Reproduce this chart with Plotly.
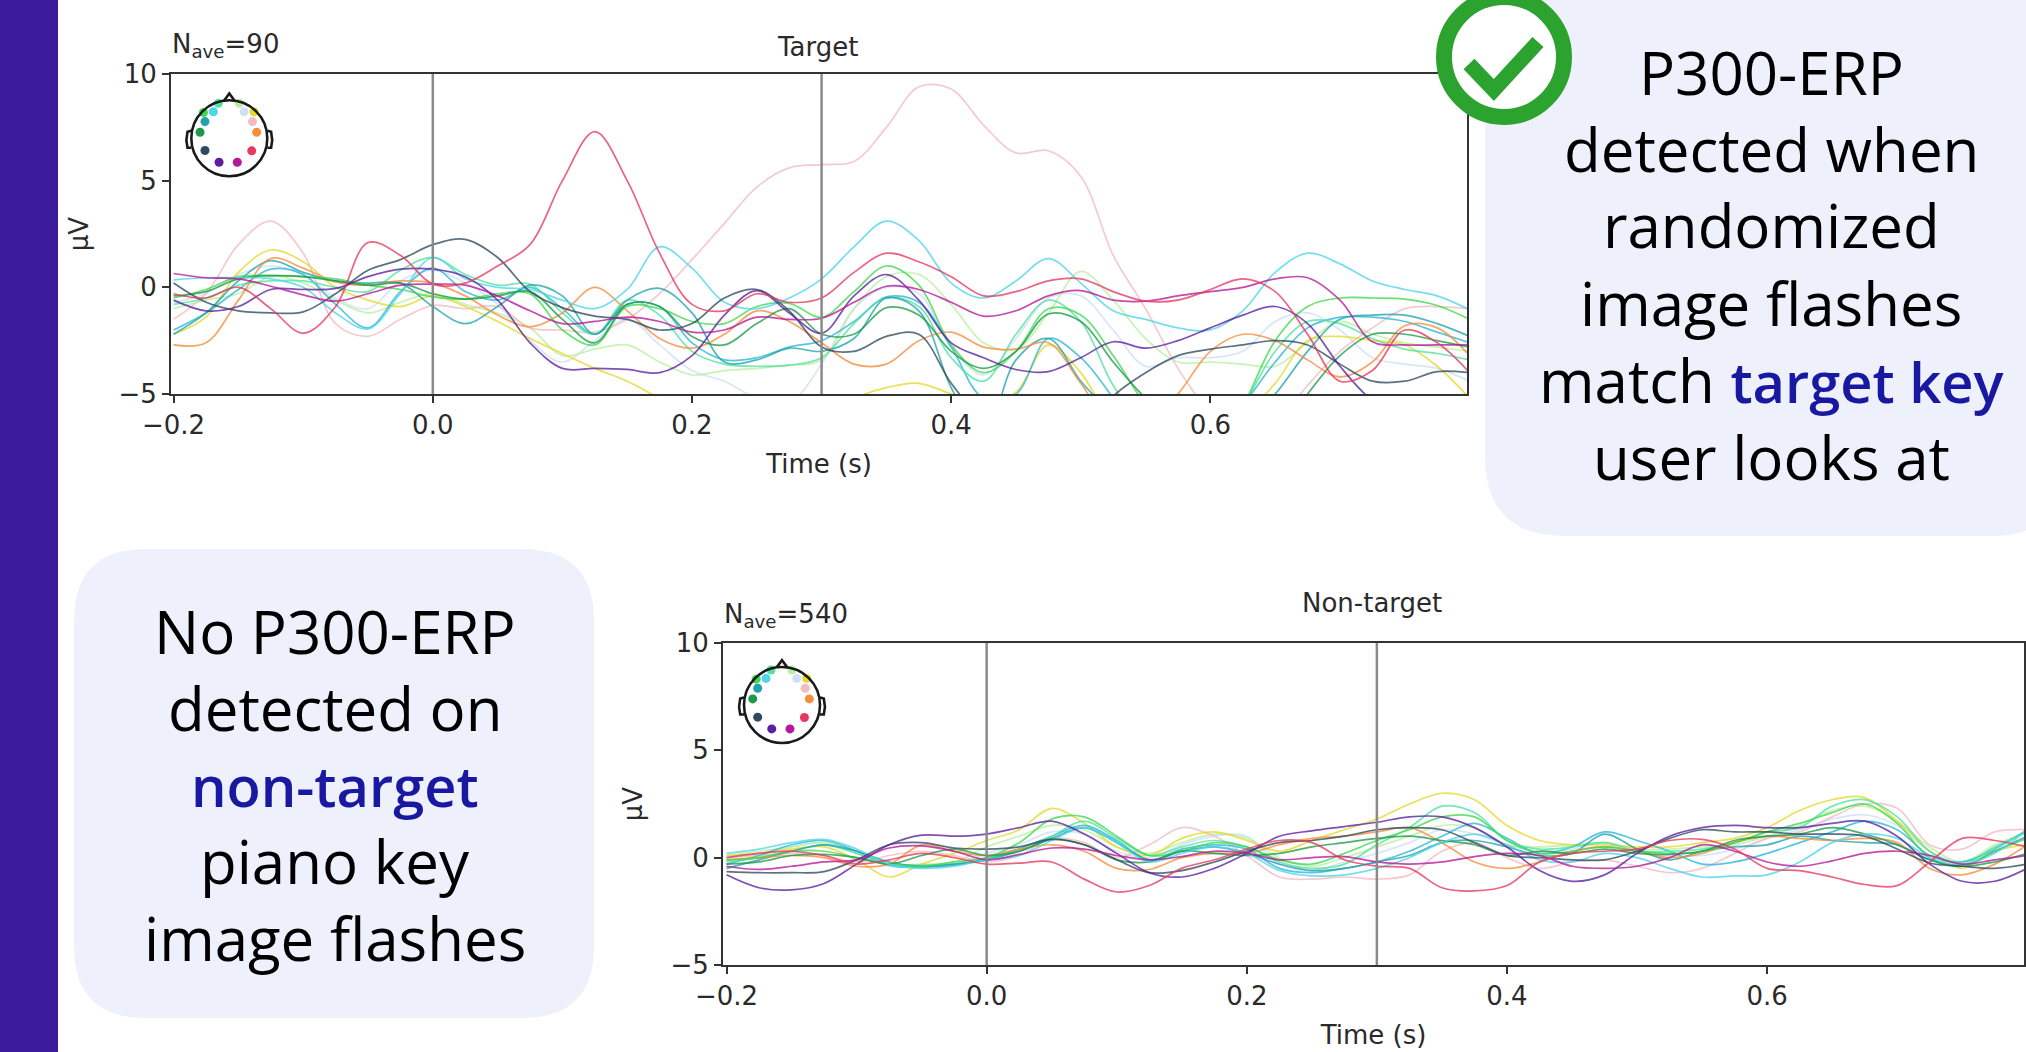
import plotly.graph_objects as go

W, H = 2026, 1052

time_s = [round(-0.2 + 0.025 * i, 3) for i in range(41)]
x_ticks = [-0.2, 0.0, 0.2, 0.4, 0.6]
y_ticks = [-5, 0, 5, 10]
markers_s = [0.0, 0.3]

channels = ["paleblue", "lightgreen", "palepink", "yellow", "bluecyan", "mint", "teal", "orange",
            "lime", "green", "cyan", "navy", "indigo", "magenta", "crimson"]

colors = dict(crimson="#e6395f", palepink="#f2bcc4", cyan="#4fd6ea", magenta="#b5189a", indigo="#5b1fa0",
              navy="#2f4a5f", teal="#1fa3ac", orange="#f58d3c", yellow="#e6d92a", green="#1c9a4a",
              lime="#3fd94f", mint="#4fe3a0", lightgreen="#b8f0a0", paleblue="#cfdff5", bluecyan="#28b8d8")

target = {}
target["crimson"] = [-.3,-.5,0,-1,-2.15,-.9,2.1,1.5,.15,.2,1.0,2.0,5.0,7.3,5.0,1.6,-.8,-1.1,-.3,-.7,-.5,.7,1.6,1.2,.5,-.4,-.2,.3,.4,-.2,-.65,-.6,-.1,.4,-.2,-2.2,-4.4,-3.9,-2.0,-2.6,-4.0]
target["palepink"] = [-1.5,-.3,2.0,3.1,1.6,-1.7,-2.3,-1.5,-.85,-1.0,-.9,-1.9,-2,-2.1,-1.5,-.3,1.3,3.0,4.7,5.6,5.75,5.9,7.5,9.4,9.3,7.6,6.3,6.4,5.2,1.5,-1.0,-3.8,-6,-8,-6.5,-4.6,-3,-1.9,-1,-.9,-1]
target["cyan"] = [.35,.45,.45,.4,.0,-1.2,-1.95,-.3,1.4,.4,.0,-.1,-.6,-1.0,-.1,1.9,.9,-.7,-1.0,-.5,.4,1.9,3.1,2.2,.2,-.5,.3,1.35,.2,-1.1,-1.5,-1.9,-2.0,-1.1,.7,1.6,1.1,.3,-.1,-.4,-1.05]
target["magenta"] = [.65,.45,.4,.05,-.35,-.65,-.3,.1,.15,.1,-.4,-1.1,-1.7,-1.6,-1.4,-1.6,-2.1,-2.0,-1.4,-1.5,-1.45,-.7,.05,-.1,-.7,-1.35,-1.1,-.4,-.15,-.6,-.65,-.4,-.2,0,.4,.45,-.6,-2.55,-2.7,-2.7,-2.7]
target["indigo"] = [-.6,-1.1,-.9,-.1,-.1,-.05,.5,.85,.85,.5,-.6,-2.6,-3.8,-3.8,-3.85,-4,-3.2,-1.3,-.15,-1.2,-2.15,-.4,.6,-.6,-2.6,-3.3,-3.85,-3.95,-3.3,-2.55,-2.85,-2.5,-1.9,-1.3,-.9,-1.7,-3.7,-5.3,-6,-6.5,-7]
target["navy"] = [.2,-.7,-1.1,-1.2,-1.15,-.3,.8,1.3,2.0,2.25,1.4,-.2,-.95,-1.35,-1.5,-2.0,-1.7,-.5,-.1,-1.1,-2.8,-3.0,-2.3,-2.2,-4.5,-6.3,-7.5,-8,-7,-5.1,-4,-3.2,-2.9,-2.7,-2.5,-2.7,-3.6,-4.4,-4.4,-3.95,-4]
target["teal"] = [-2.2,-1.2,.3,1.25,.7,.3,.2,.2,-.9,-1.7,-.9,.1,-.4,-2.2,-.6,-.05,-1.2,-3.5,-3.4,-2.85,-3.0,-2.4,-.5,-1.1,-4.7,-7,-3.4,-2.4,-4.4,-6,-7.5,-8,-7.5,-6.5,-5,-3,-1.5,-1.3,-1.3,-1.7,-2.3]
target["orange"] = [-2.7,-2.6,-.6,1.35,.9,.25,.1,.3,.2,-.4,-1.3,-1.85,-1.2,0,-1.1,-2.4,-2.85,-2.2,-1.1,-1.6,-2.6,-3.6,-3.6,-2.5,-2.1,-2.8,-2.9,-2.6,-4.5,-6.5,-6.5,-5,-3,-2.2,-2.5,-3.4,-4.2,-3.5,-1.8,-1.9,-3.2]
target["yellow"] = [-2.2,-1.4,.7,1.75,1.2,0,-.6,-.9,-.4,-.9,-1.6,-2.4,-3.1,-3.8,-4.4,-5.2,-6,-6.5,-7,-6.5,-6,-5.2,-4.7,-4.5,-5,-5.5,-4.9,-2.7,-4,-6.5,-8,-8,-7,-6,-4.5,-2.5,-2.3,-2.5,-2.7,-3.7,-5.2]
target["green"] = [-.4,-.2,.4,.55,.5,.3,.1,.2,-.3,-.55,-.4,-.2,-1.5,-2.6,-.8,-.9,-2.3,-2.7,-1.7,-1.0,-2.2,-2.2,-.95,-1.3,-3,-3.8,-3,-1.25,-1.6,-3.5,-5.2,-6.5,-7.5,-8,-7,-5,-3.2,-2.2,-2.2,-2.5,-2.8]
target["lime"] = [-.5,-.1,.5,.55,.5,.4,.1,-.1,-.45,-.55,-.3,-.3,-2.0,-2.7,-.9,-1,-1.6,-1.7,-.9,-.75,-1.4,-.2,1.0,.1,-2.7,-4,-3,-1,-1.3,-3.2,-5.5,-7,-8,-5.6,-2.5,-.9,-.5,-.5,-.55,-.85,-1.5]
target["mint"] = [-.8,-.5,.1,.3,.3,.0,-.2,.8,1.4,.6,.1,.15,-1.2,-2.2,-.6,-1.3,-3,-3.6,-3.7,-3.65,-3.3,-1.7,-.5,-.9,-3.3,-4.4,-2.2,-.6,-1.6,-4.6,-6.5,-7.5,-7,-5.5,-3,-1.6,-1.7,-2.4,-2.9,-3.1,-3.4]
target["lightgreen"] = [-1,-.6,-.3,.5,.2,-.6,-1.2,-.7,-.3,-.8,-1.2,-1.9,-3.2,-2.9,-2.7,-3.5,-4.1,-3.9,-3.8,-3.65,-3.4,-1,.5,.6,-.8,-2.6,-2.9,-1.2,.75,-.6,-2.4,-3.5,-3.5,-3.6,-3.7,-2.6,-1.6,-2.2,-2.6,-2.8,-3]
target["paleblue"] = [-.7,-.3,.6,1.0,.6,-.5,-1,.3,.8,.2,-.8,-2.5,-3.5,-2.5,-1.5,-2.7,-3.9,-4.4,-5.2,-5.4,-3.6,-1,.0,-.3,-2.8,-4.1,-2.4,-.5,-.4,-2,-3.7,-3.3,-3.3,-3,-1.6,-1.2,-2,-3.3,-3.6,-3.8,-4.4]
target["bluecyan"] = [-2.0,-1.2,-.1,.85,.6,-.8,-1.9,-.2,.9,-.2,-.6,.0,-1,-2.2,-.8,-.9,-2.6,-3.4,-3.3,-2.8,-2.5,-1.6,-.45,-.7,-2.8,-5.2,-5,-2.4,-3.3,-5.2,-7.5,-8,-7,-5.5,-3.5,-1.9,-1.4,-1.4,-1.6,-2.1,-2.6]

nontarget = {}
nontarget["crimson"] = [0,.2,.3,.1,-.3,-.1,.2,.0,-.3,-.25,-.2,-1.0,-1.6,-1.3,-.5,-.1,.4,.8,.7,-.1,-.4,-.5,-1.4,-1.55,-1.3,-.2,.2,.3,.4,.8,.85,.4,-.5,-.6,-.9,-1.25,-1.3,-.2,.9,.8,.5]
nontarget["palepink"] = [0,.1,.2,.1,-.2,.1,.3,.1,-.2,.1,.9,.7,.0,.6,1.4,1.0,.1,-.9,-1,-.9,-1.0,-.8,.3,.7,.0,-.5,-.2,-.1,-.4,-.7,-.5,.2,.9,1.2,1.9,2.5,2.3,.6,.4,1.2,1.3]
nontarget["yellow"] = [.1,.2,.4,.5,-.1,-.9,-.3,.2,.8,1.3,2.3,1.6,.5,.1,.9,1.2,.8,.3,.8,1.3,1.8,2.5,3,2.7,1.5,.8,.6,.6,.5,.5,.7,.9,1.4,2.2,2.7,2.8,1.7,.3,-.5,.3,.6]
nontarget["lime"] = [-.1,.0,.3,.3,.0,-.3,-.4,-.2,.0,.7,1.8,1.9,1.0,.1,.3,.7,.5,-.1,-.3,.2,.8,1.3,1.9,1.9,.8,.2,.3,.5,.3,.2,.3,.7,1.2,1.6,2.1,2.5,1.6,.0,-.35,.3,.9]
nontarget["mint"] = [-.2,.0,.3,.6,.2,-.3,-.35,-.3,-.1,.4,1.0,1.7,.9,.1,.5,.8,.5,-.2,-.5,-.3,.6,1.4,2.4,2.1,.8,.4,.5,.7,.3,.3,.4,.7,1.2,1.4,2.4,2.7,1.9,.3,-.3,.5,1.2]
nontarget["bluecyan"] = [-.3,.1,.6,.8,.3,-.35,-.45,-.35,-.05,.4,1,1.5,.8,-.1,.4,.6,.4,-.5,-.7,-.5,-.2,.3,1,1.6,.9,.2,.5,1.2,.8,.3,-.3,-.2,.2,.7,1.2,1.7,1.3,.1,-.2,.4,1.3]
nontarget["cyan"] = [.2,.4,.7,.85,.4,-.3,-.5,-.4,-.1,.1,.8,1.4,.7,-.2,.2,.5,.2,-.6,-.85,-.8,-.5,.0,.7,1.1,.6,-.1,-.2,.2,.0,-.5,-.9,-.85,-.8,-.2,.7,1.1,.9,.0,-.35,.2,1.3]
nontarget["teal"] = [-.5,-.1,.3,.6,.3,-.2,-.4,-.3,-.1,.3,.9,1.4,.7,-.1,.3,.5,.2,-.3,-.6,-.5,-.2,.1,.7,.8,.5,.1,.2,1.1,.4,-.1,.3,.5,.6,1.0,.8,.7,.6,-.1,-.4,.3,1.0]
nontarget["green"] = [-.3,-.2,.1,.15,0,-.3,.1,.4,.1,.3,.85,.6,-.1,-.2,.3,.2,.1,.2,.5,.7,.9,1.0,.8,.6,.1,.3,.2,.4,.2,.15,.3,.8,1.0,1.1,1.4,1.1,.6,-.1,-.4,-.2,.2]
nontarget["navy"] = [-.65,-.7,-.7,-.65,-.1,.6,.7,.45,.4,.5,.85,.6,-.1,-.7,-.6,-.2,.3,.7,.8,1,1.3,1.4,1.3,.7,.1,.0,-.1,-.1,.3,.9,1.3,1.2,1.2,1.1,1.1,1,.4,-.25,-.4,-.5,-.3]
nontarget["indigo"] = [-.8,-1.4,-1.5,-1.2,-.3,.6,1.05,1.0,1.1,1.4,1.7,1.1,.2,-.7,-.9,-.5,.2,1,1.25,1.45,1.65,1.9,1.9,1.4,.5,-.6,-1.1,-.8,.2,1,1.4,1.5,1.4,1.4,1.6,1.7,1.0,-.3,-1.1,-1.1,-.5]
nontarget["magenta"] = [-.4,-.55,-.4,-.2,-.1,.45,.55,.3,-.1,.15,.45,.4,.1,-.1,.05,.3,.2,-.1,.0,.05,-.2,-.3,-.2,.05,.2,.1,-.4,-.5,-.4,-.0,.6,.3,-.2,-.4,-.15,.2,.3,.1,-.3,-.1,.1]
nontarget["orange"] = [-.1,.0,.1,.0,-.4,-.3,.6,.3,.1,.4,.6,.3,-.5,-.55,.0,.2,.2,.6,.9,1,1.2,1.4,.7,-.2,-.5,-.2,.3,.5,.3,.0,.2,.7,1,.9,.8,.9,.7,-.5,-.8,-.3,.6]
nontarget["lightgreen"] = [.1,.3,.5,.7,.3,-.3,-.3,-.2,.5,1.0,1.5,1.3,.5,.2,.7,1.1,.9,.0,-.4,.0,.5,1,1.5,1.4,.6,.5,.6,.7,.4,.4,.5,.6,1.0,1.5,2.2,2.4,1.7,.5,-.2,.6,1.2]
nontarget["paleblue"] = [.0,.2,.5,.7,.2,-.4,-.4,-.3,.2,.6,1.2,1.1,.3,.0,.6,1,1.0,-.3,-.6,-.2,.2,.7,1.3,1.1,.6,.3,.4,.7,.4,.1,.1,.4,.9,1.3,1.8,2,1.5,.3,-.2,.5,1.2]

sensor_names = ["mint", "lime", "cyan", "teal", "green", "navy", "indigo", "magenta", "crimson", "orange",
                "palepink", "yellow", "paleblue", "lightgreen"]
sensor_x = [-.29, -.68, -.42, -.64, -.77, -.64, -.27, .21, .59, .72, .61, .65, .39, .26]
sensor_y = [.92, .68, .70, .44, .16, -.32, -.63, -.63, -.33, .16, .44, .70, .70, .92]
nose_x = [-.14, 0, .14]
nose_y = [.99, 1.18, .99]
ear_l_x = [-1.0, -1.1, -1.13, -1.1, -1.0]
ear_r_x = [1.0, 1.1, 1.13, 1.1, 1.0]
ear_y = [.2, .17, -.05, -.25, -.25]

for d in (target, nontarget):
    for k, v in d.items():
        assert len(v) == 41, (k, len(v))


def px(x):
    return x / W


def py(y):
    return 1 - y / H


def rrect(x0, y0, x1, y1, r):
    a, b, c, d = px(x0), py(y0), px(x1), py(y1)
    rx, ry = r / W, r / H
    return (f"M {a+rx} {b} L {c-rx} {b} Q {c} {b} {c} {b-ry} L {c} {d+ry} Q {c} {d} {c-rx} {d} "
            f"L {a+rx} {d} Q {a} {d} {a} {d+ry} L {a} {b-ry} Q {a} {b} {a+rx} {b} Z")


fig = go.Figure()
FONT = "DejaVu Sans"
INK = "#2a2a2a"
LABEL = 26


def add_panel(n, data, box, xr, x_standoff, y_standoff):
    xa = f"xaxis{n if n > 1 else ''}"
    ya = f"yaxis{n if n > 1 else ''}"
    xn, yn = f"x{n if n > 1 else ''}", f"y{n if n > 1 else ''}"
    for ch in channels:
        fig.add_trace(go.Scatter(x=time_s, y=data[ch], mode="lines", name=ch, showlegend=False,
                                 xaxis=xn, yaxis=yn, hoverinfo="skip", opacity=0.78,
                                 line=dict(color=colors[ch], width=1.7, shape="spline", smoothing=1.0)))
    x0, y0, x1, y1 = box
    common = dict(showline=True, linecolor="#333333", linewidth=2, mirror=True, showgrid=False, zeroline=False,
                  ticks="outside", ticklen=7, tickwidth=2, tickcolor="#333333",
                  tickfont=dict(family=FONT, size=LABEL, color=INK))
    fig.update_layout(**{
        xa: dict(domain=[px(x0), px(x1)], range=xr, tickvals=x_ticks, tickformat=".1f", anchor=yn,
                 title=dict(text="Time (s)", font=dict(family=FONT, size=LABEL, color=INK), standoff=x_standoff), **common),
        ya: dict(domain=[py(y1), py(y0)], range=[-5, 10], tickvals=y_ticks, anchor=xn,
                 title=dict(text="µV", font=dict(family=FONT, size=LABEL, color=INK), standoff=y_standoff), **common),
    })
    for m in markers_s:
        fig.add_shape(type="line", xref=xn, yref=f"{yn} domain", x0=m, x1=m, y0=0, y1=1,
                      line=dict(color="#8a8a8a", width=2.5))


add_panel(1, target, (171, 74, 1467, 394), [-0.202, 0.798], 16, 22)
add_panel(2, nontarget, (723, 643, 2024, 965), [-0.2027, 0.7975], 16, 20)


def add_head(n, cx, cy, r=38, span=1.3):
    xn, yn = f"x{n}", f"y{n}"
    s = r * span
    fig.update_layout(**{
        f"xaxis{n}": dict(domain=[px(cx - s), px(cx + s)], range=[-span, span], visible=False, anchor=yn, fixedrange=True),
        f"yaxis{n}": dict(domain=[py(cy + s), py(cy - s)], range=[-span, span], visible=False, anchor=xn, fixedrange=True),
    })
    fig.add_shape(type="circle", xref=xn, yref=yn, x0=-1, x1=1, y0=-1, y1=1, line=dict(color="#1a1a1a", width=2.6))
    for xs, ys in ((nose_x, nose_y), (ear_l_x, ear_y), (ear_r_x, ear_y)):
        fig.add_trace(go.Scatter(x=xs, y=ys, mode="lines", xaxis=xn, yaxis=yn, showlegend=False, hoverinfo="skip",
                                 line=dict(color="#1a1a1a", width=2.6)))
    fig.add_trace(go.Scatter(x=sensor_x, y=sensor_y, mode="markers", xaxis=xn, yaxis=yn, showlegend=False,
                             hoverinfo="skip",
                             marker=dict(size=9, color=[colors[k] for k in sensor_names], line=dict(width=0))))


add_head(3, 229.3, 138.3)
add_head(4, 782, 705)

# decoration
BOX = "#eef1fc"
fig.add_shape(type="rect", xref="paper", yref="paper", x0=0, x1=px(58), y0=0, y1=1, fillcolor="#3c1a9c",
              line_width=0, layer="below")
fig.add_shape(type="path", xref="paper", yref="paper", path=rrect(1485, -40, 2070, 536, 80), fillcolor=BOX,
              line_width=0, layer="below")
fig.add_shape(type="path", xref="paper", yref="paper", path=rrect(74, 549, 594, 1018, 72), fillcolor=BOX,
              line_width=0, layer="below")
fig.add_shape(type="circle", xref="paper", yref="paper", x0=px(1504-60), x1=px(1504+60), y0=py(57+60), y1=py(57-60),
              fillcolor="white", line=dict(color="#2ca22f", width=16))
cx = [1469, 1493.8, 1538]
cy = [64, 90, 42]
fig.add_shape(type="path", xref="paper", yref="paper", line=dict(color="#2ca22f", width=15),
              path=f"M {px(cx[0])} {py(cy[0])} L {px(cx[1])} {py(cy[1])} L {px(cx[2])} {py(cy[2])}")

T = "#000000"
B = "#1818a0"
blue = lambda s: f'<span style="color:{B};font-weight:600;font-size:56px">{s}</span>'
lines_right = ["P300-ERP", "detected when", "randomized", "image flashes", f"match {blue('target key')}", "user looks at"]
y_right = [72, 149, 225, 303, 380, 457]
lines_left = ["No P300-ERP", "detected on", blue("non-target"), "piano key", "image flashes"]
y_left = [631, 708, 785, 861, 938]
BIG = "Open Sans"
for s, y in zip(lines_right, y_right):
    fig.add_annotation(text=s, xref="paper", yref="paper", x=px(1771), y=py(y), xanchor="center", yanchor="middle",
                       showarrow=False, font=dict(family=BIG, size=60, color=T))
for s, y in zip(lines_left, y_left):
    fig.add_annotation(text=s, xref="paper", yref="paper", x=px(335), y=py(y), xanchor="center", yanchor="middle",
                       showarrow=False, font=dict(family=BIG, size=60, color=T))

labels = [("N<sub>ave</sub>=90", 170, 46, "left"), ("Target", 817, 47, "center"),
          ("N<sub>ave</sub>=540", 722, 615, "left"), ("Non-target", 1372, 603, "center")]
for s, x, y, anc in labels:
    fig.add_annotation(text=s, xref="paper", yref="paper", x=px(x), y=py(y), xanchor=anc, yanchor="middle",
                       showarrow=False, font=dict(family=FONT, size=LABEL, color=INK))

fig.update_layout(width=W, height=H, margin=dict(l=0, r=0, t=0, b=0, autoexpand=False), paper_bgcolor="white",
                  plot_bgcolor="rgba(0,0,0,0)", showlegend=False)
fig.write_html("out.html", config={"displayModeBar": False},
               post_script="document.body.style.margin='0';document.body.style.overflow='hidden';")
